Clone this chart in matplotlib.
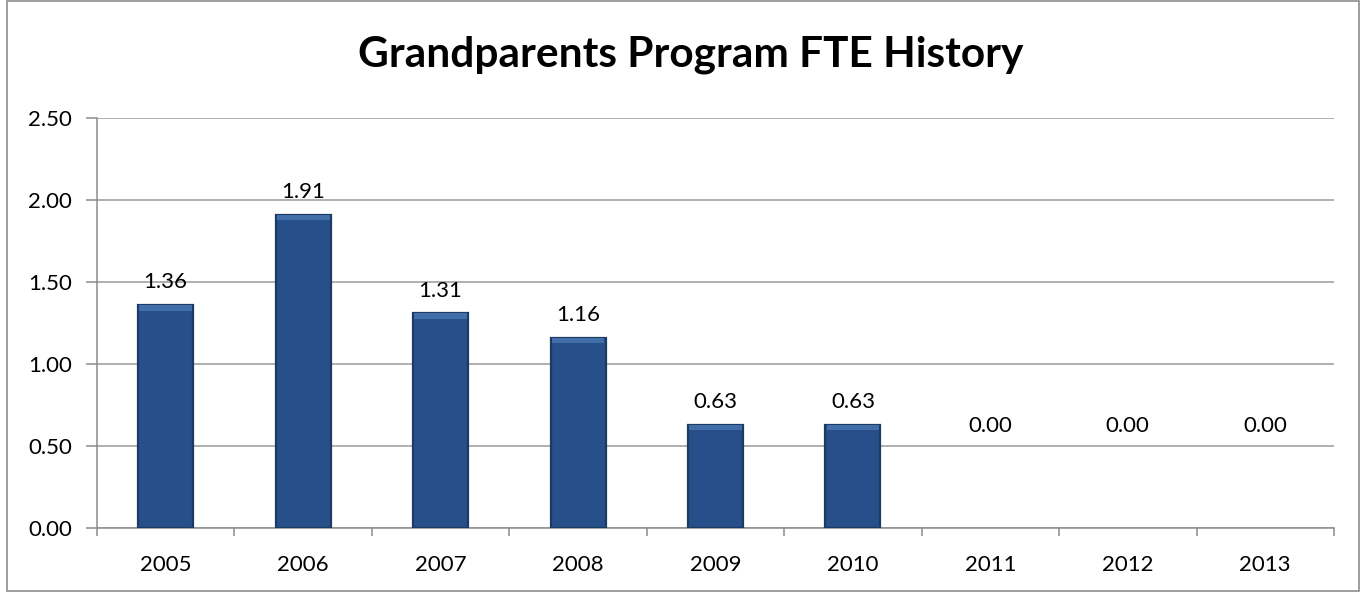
import matplotlib
matplotlib.use("Agg")
import matplotlib.pyplot as plt
from matplotlib.patches import Rectangle
import numpy as np

years = ["2005", "2006", "2007", "2008", "2009", "2010", "2011", "2012", "2013"]
fte = [1.36, 1.91, 1.31, 1.16, 0.63, 0.63, 0.00, 0.00, 0.00]
yticks = [0.0, 0.5, 1.0, 1.5, 2.0, 2.5]
title = "Grandparents Program FTE History"

plt.rcParams['font.family'] = ['Lato', 'DejaVu Sans']

fig = plt.figure(figsize=(13.62, 5.92), dpi=100)
fig.patches.append(Rectangle((0.005, 0.002), 0.993, 0.996, transform=fig.transFigure,
                             fill=False, edgecolor='#8c8c8c', linewidth=1.2))
ax = fig.add_axes([0.0712, 0.1081, 0.9794 - 0.0712, 0.8007 - 0.1081])

x = np.arange(len(years))
lws = [1.6 if v > 0 else 0 for v in fte]
bars = ax.bar(x, fte, width=0.4, color='#27508a', edgecolor='#1b3a64', linewidth=lws, zorder=3)
# lighter top bevel
for b in bars:
    if b.get_height() > 0:
        ax.bar(b.get_x() + b.get_width() / 2, 0.035, bottom=b.get_height() - 0.035,
               width=b.get_width() * 0.96, color='#416ea9', linewidth=0, zorder=4)

ax.set_xlim(-0.5, len(years) - 0.5)
ax.set_ylim(0, 2.5)
ax.set_yticks(yticks)
ax.set_yticklabels([f"{v:.2f}" for v in yticks], fontsize=16)
ax.yaxis.grid(True, color='#9a9a9a', linewidth=1.1, zorder=0)
ax.set_axisbelow(True)

ax.set_xticks(x)
ax.set_xticklabels(years, fontsize=16)
ax.tick_params(axis='x', length=0, pad=19.5)
ax.set_xticks(np.arange(-0.5, len(years)), minor=True)
ax.tick_params(axis='x', which='minor', length=6, color='#8c8c8c', width=1.1, direction='out')
ax.tick_params(axis='y', length=8, color='#8c8c8c', width=1.1, pad=10)

for s in ['top', 'right']:
    ax.spines[s].set_visible(False)
for s in ['left', 'bottom']:
    ax.spines[s].set_color('#8c8c8c')
    ax.spines[s].set_linewidth(1.1)

for xi, v in zip(x, fte):
    off = 9 if v > 0 else 66
    ax.annotate(f"{v:.2f}", (xi, v), xytext=(0, off), textcoords='offset points',
                ha='center', va='bottom', fontsize=16)

fig.text(0.507, 0.8885, title, ha='center', va='baseline', fontsize=30.5, fontweight='bold')

fig.savefig("out.png", dpi=100)
